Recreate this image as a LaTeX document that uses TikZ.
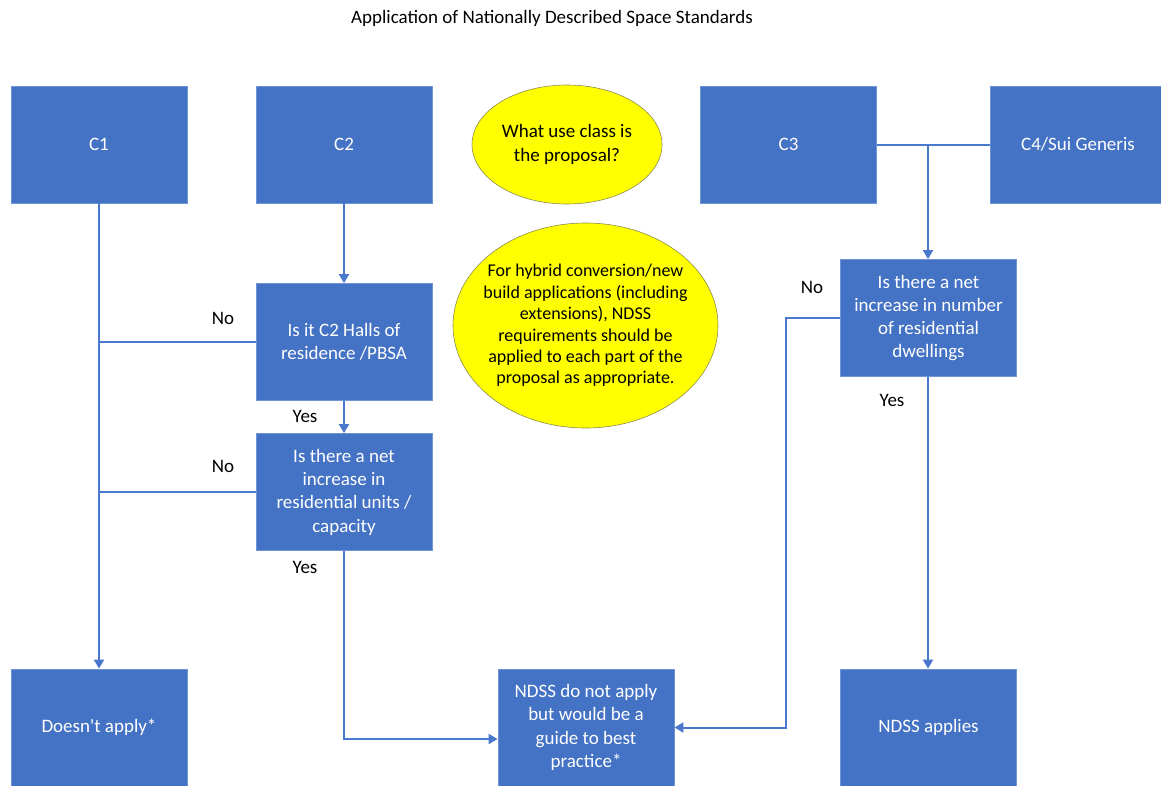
\documentclass[tikz,border=0pt]{standalone}
\usepackage{fontspec}
\setmainfont{Carlito}
\usetikzlibrary{arrows.meta,shapes.geometric}
\definecolor{boxblue}{HTML}{4472C4}
\definecolor{boxedge}{HTML}{6E93D6}
\definecolor{lineblue}{HTML}{4A78CE}
\definecolor{ellyellow}{HTML}{FFFF00}
\definecolor{elledge}{HTML}{8C8C50}
\tikzset{
  bluebox/.style={rectangle, fill=boxblue, draw=boxedge, line width=0.8pt,
    minimum width=176pt, minimum height=117pt, inner sep=2pt,
    text=white, align=center, font=\fontsize{19}{23.3}\selectfont},
  yellowell/.style={ellipse, fill=ellyellow, draw=elledge, line width=0.6pt,
    inner sep=0pt},
  elltext/.style={text=black, align=center, inner sep=0pt},
  conn/.style={draw=lineblue, line width=2pt},
  arr/.style={conn, -{Triangle[width=10pt,length=9pt]}},
  lbl/.style={text=black, font=\fontsize{19}{23.3}\selectfont, inner sep=0pt},
}
\begin{document}
\begin{tikzpicture}[x=1pt,y=-1pt]
\useasboundingbox (0,0) rectangle (1161,785);
\fill[white] (0,0) rectangle (1161,785);

\node[lbl] (title) at (552,18) {Application of Nationally Described Space Standards};

\node[bluebox] (C1) at (99,144.5) {C1};
\node[bluebox] (C2) at (344,144.5) {C2};
\node[bluebox] (C3) at (788.5,144.5) {C3};
\node[bluebox] (C4) at (1078,144.5) {C4/Sui Generis};

\node[yellowell, minimum width=190pt, minimum height=119pt,
  label={[elltext, font=\fontsize{19}{23.3}\selectfont]center:What use class is\\the proposal?}] (E1) at (567,144.5) {};
\node[yellowell, minimum width=265pt, minimum height=205pt,
  label={[elltext, font=\fontsize{18}{21.4}\selectfont]center:For hybrid conversion/new\\build applications (including\\extensions), NDSS\\requirements should be\\applied to each part of the\\proposal as appropriate.}] (E2) at (585.5,325.5) {};

\node[bluebox] (Q1) at (344,342) {Is it C2 Halls of\\residence /PBSA};
\node[bluebox] (Q2) at (344,492) {Is there a net\\increase in\\residential units /\\capacity};
\node[bluebox] (Q3) at (928.5,318) {Is there a net\\increase in number\\of residential\\dwellings};

\node[bluebox] (DA) at (99,727.5) {Doesn\textquotesingle t apply*};
\node[bluebox] (ND) at (586,727.5) {NDSS do not apply\\but would be a\\guide to best\\practice*};
\node[bluebox] (NA) at (928.5,727.5) {NDSS applies};

% connectors
\draw[arr] (C1.south) -- (DA.north);
\draw[arr] (C2.south) -- (Q1.north);
\draw[conn] (Q1.west) -- (C1.south |- Q1.west);
\draw[arr] (Q1.south) -- (Q2.north);
\draw[conn] (Q2.west) -- (C1.south |- Q2.west);
\draw[arr] (Q2.south) |- ([yshift=-11.5pt]ND.west);

\coordinate (J) at (928,144.5);
\draw[conn] (C3.east) -- (C4.west);
\draw[arr] (J) -- (J |- Q3.north);
\draw[arr] (Q3.west) -- ++(-54,0) |- (ND.east);
\draw[arr] (J |- Q3.south) -- (J |- NA.north);

% labels
\node[lbl] (n1) at (223,318) {No};
\node[lbl] (y1) at (305,416) {Yes};
\node[lbl] (n2) at (223,466) {No};
\node[lbl] (y2) at (305,567) {Yes};
\node[lbl] (n3) at (812,287) {No};
\node[lbl] (y3) at (892,400) {Yes};
\end{tikzpicture}
\end{document}
